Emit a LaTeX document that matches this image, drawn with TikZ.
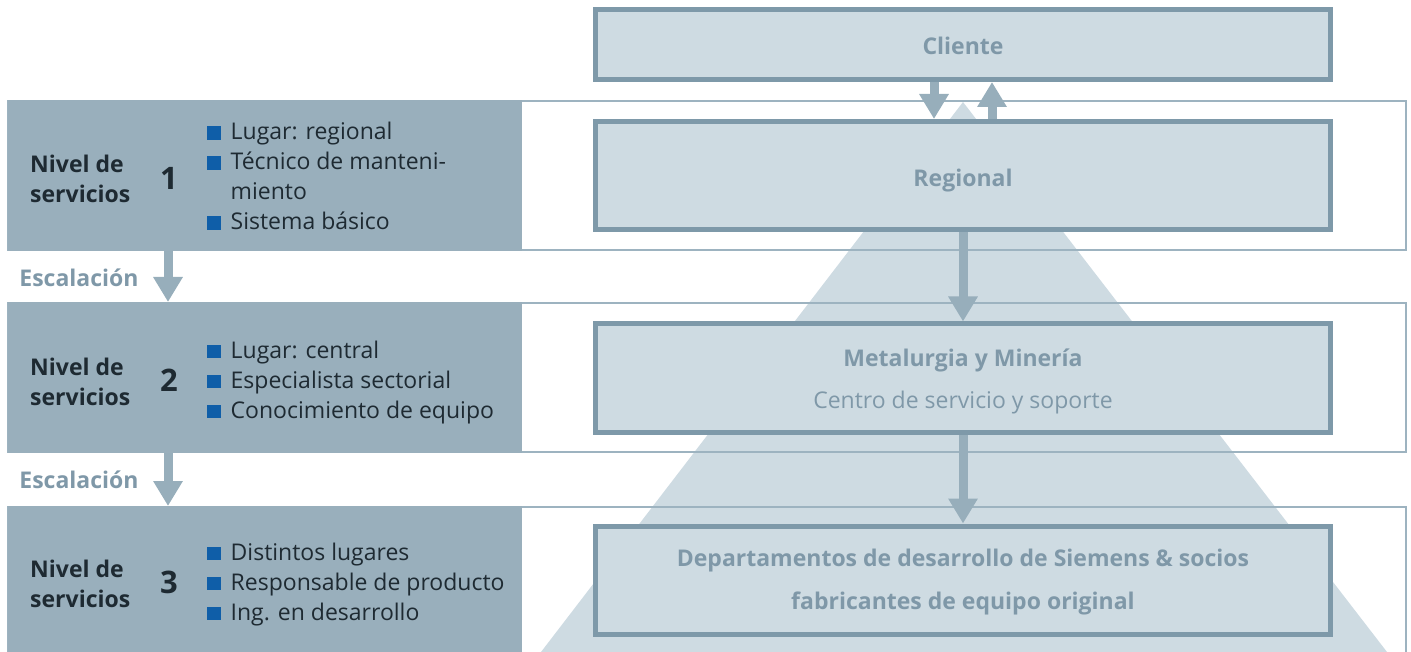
\documentclass[tikz,border=0pt]{standalone}
\usepackage{fontspec}
\setmainfont{Open Sans}
\usetikzlibrary{arrows.meta}
\definecolor{panel}{HTML}{99AFBC}
\definecolor{boxfill}{HTML}{CEDBE2}
\definecolor{boxline}{HTML}{7E99A9}
\definecolor{arrowc}{HTML}{97AEBB}
\definecolor{bandline}{HTML}{9DB3C0}
\definecolor{bulletc}{HTML}{0F5EA8}
\definecolor{boxtext}{HTML}{7F98A8}
\definecolor{darktext}{HTML}{1E2A32}
\newcommand\sqbul{\textcolor{bulletc}{\rule{13.5pt}{13.5pt}}}
\begin{document}
\begin{tikzpicture}[x=1pt,y=-1pt,
  lvlbox/.style={draw=boxline, line width=5pt, fill=boxfill, minimum width=735pt,
    minimum height=108pt, inner sep=0pt},
  boxlbl/.style={anchor=base, inner sep=0pt, text=boxtext, font=\fontsize{23}{28}\selectfont},
  panelbox/.style={fill=panel, minimum width=514pt, minimum height=151pt,
    inner sep=0pt, outer sep=0pt, anchor=north west},
  band/.style={draw=bandline, line width=2pt},
  flow/.style={draw=arrowc, line width=9pt, -{Triangle[width=28pt,length=25pt]}},
  nivel/.style={anchor=west, align=left, text=darktext, inner sep=0pt,
    font=\fontsize{23}{30}\selectfont\bfseries},
  numlbl/.style={text=darktext, inner sep=0pt, font=\fontsize{31}{36}\selectfont\bfseries},
  blist/.style={anchor=west, inner sep=0pt, text=darktext, font=\fontsize{23}{30}\selectfont},
  escal/.style={text=boxtext, inner sep=0pt, font=\fontsize{23}{26}\selectfont\bfseries}
]
\useasboundingbox (0,0) rectangle (1411,652);
\clip (0,0) rectangle (1411,652);
% pyramid
\fill[boxfill] (963,102) -- (1387,652) -- (541,652) -- cycle;
% bands
\draw[band] (8,101) rectangle (1406,250);
\draw[band] (8,303) rectangle (1406,452);
\draw[band] (8,507) rectangle (1406,720);
% left panels
\node[panelbox] (p1) at (8,100) {};
\node[panelbox] (p2) at (8,302) {};
\node[panelbox, minimum height=160pt] (p3) at (8,506) {};
% level texts
\node[nivel] (n1) at (30,179) {Nivel de\\servicios};
\node[nivel] (n2) at (30,382) {Nivel de\\servicios};
\node[nivel] (n3) at (30,584) {Nivel de\\servicios};
\node[numlbl] (k1) at (169,178) {1};
\node[numlbl] (k2) at (169,380) {2};
\node[numlbl] (k3) at (169,582) {3};
% bullet lists
\node[blist] (b1) at (207,179) {\begin{tabular}{@{}l@{\hspace{10pt}}l@{}}
\sqbul & Lugar: regional\\
\sqbul & Técnico de manteni-\\
 & miento\\
\sqbul & Sistema básico
\end{tabular}};
\node[blist] (b2) at (207,382) {\begin{tabular}{@{}l@{\hspace{10pt}}l@{}}
\sqbul & Lugar: central\\
\sqbul & Especialista sectorial\\
\sqbul & Conocimiento de equipo
\end{tabular}};
\node[blist] (b3) at (207,584) {\begin{tabular}{@{}l@{\hspace{10pt}}l@{}}
\sqbul & Distintos lugares\\
\sqbul & Responsable de producto\\
\sqbul & Ing. en desarrollo
\end{tabular}};
% escalation labels
\node[escal] (e1) at (79,278) {Escalación};
\node[escal] (e2) at (79,480) {Escalación};
% right boxes
\node[lvlbox, minimum height=70pt] (cliente) at (963,44.5) {};
\node[lvlbox] (regional) at (963,175.5) {};
\node[lvlbox] (metal) at (963,378) {};
\node[lvlbox] (dept) at (963,580) {};
\node[boxlbl] (tcli) at (963,54.5) {\bfseries Cliente};
\node[boxlbl] (treg) at (963,186.5) {\bfseries Regional};
\node[boxlbl] (tmet) at (963,366.5) {\bfseries Metalurgia y Minería};
\node[boxlbl] (tcen) at (963,408.5) {Centro de servicio y soporte};
\node[boxlbl] (tdep) at (963,566.5) {\bfseries Departamentos de desarrollo de Siemens \& socios};
\node[boxlbl] (tfab) at (963,609.5) {\bfseries fabricantes de equipo original};
% arrows
\draw[flow] ([xshift=-29pt]cliente.south) -- ([xshift=-29pt]regional.north);
\draw[flow] ([xshift=29pt]regional.north) -- ([xshift=29pt]cliente.south);
\draw[flow] (regional.south) -- (metal.north);
\draw[flow] (metal.south) -- (dept.north);
\draw[flow] ([xshift=160pt]p1.south west) -- ([xshift=160pt]p2.north west);
\draw[flow] ([xshift=160pt]p2.south west) -- ([xshift=160pt]p3.north west);
\end{tikzpicture}
\end{document}
